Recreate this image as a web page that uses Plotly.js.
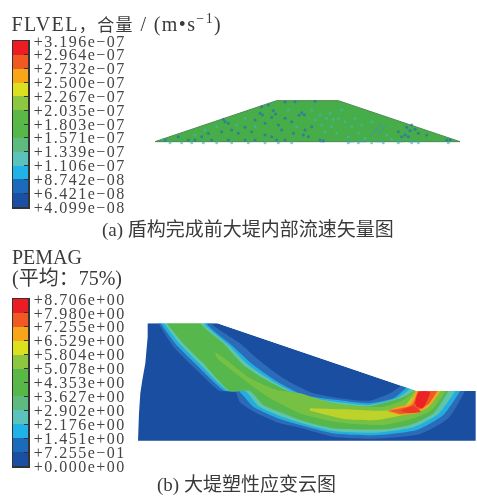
<!DOCTYPE html>
<html>
<head>
<meta charset="utf-8">
<script src="https://cdn.plot.ly/plotly-3.0.1.min.js"></script>
<style>
html,body{margin:0;padding:0;background:#fff}
#chart{width:477px;height:496px;filter:blur(0.65px)}
.ytick text,.y2tick text{letter-spacing:1.5px}
.annotation[data-index="0"] text{letter-spacing:1.4px}
</style>
</head>
<body>
<div id="chart"></div>
<script>
// Colour-bar data
const barColors = ['#1a4fa3','#1b6abb','#1fb3e8','#5bc2bc','#5dbb7f','#55b848','#5ab946','#8dc63f','#dde01f','#f9a51a','#f05a22','#ed1c24'];
const flvelValues = [4.099e-8,6.421e-8,8.742e-8,1.106e-7,1.339e-7,1.571e-7,1.803e-7,2.035e-7,2.267e-7,2.500e-7,2.732e-7,2.964e-7,3.196e-7];
const flvelLabels = ['+4.099e−08','+6.421e−08','+8.742e−08','+1.106e−07','+1.339e−07','+1.571e−07','+1.803e−07','+2.035e−07','+2.267e−07','+2.500e−07','+2.732e−07','+2.964e−07','+3.196e−07'];
const pemagValues = [0,0.7255,1.451,2.176,2.902,3.627,4.353,5.078,5.804,6.529,7.255,7.980,8.706];
const pemagLabels = ['+0.000e+00','+7.255e−01','+1.451e+00','+2.176e+00','+2.902e+00','+3.627e+00','+4.353e+00','+5.078e+00','+5.804e+00','+6.529e+00','+7.255e+00','+7.980e+00','+8.706e+00'];

// Embankment section (upper figure)
const levee = [[30,155],[395,32],[580,32],[945,155],[30,155]];
const speckBlue = [[345,70],[352,75],[385,62],[392,72],[380,82],[470,68],[462,76],[478,74],[250,100],[235,88],[300,112],[320,125],[400,105],[410,120],[480,120],[500,110],[445,130],[280,130],[190,130],[150,150],[200,150],[250,150],[300,150],[330,150],[395,150],[420,150],[525,150],[535,152],[785,112],[795,122],[820,130],[760,125],[770,140],[420,36],[450,35],[510,34],[240,95],[100,140],[130,150],[60,150],[350,50],[370,45],[330,90],[360,100],[420,85],[440,95],[360,135],[380,140],[230,125],[260,120],[170,140],[905,150],[915,150],[800,105],[810,118],[780,135],[790,140],[845,135],[475,135],[490,140]];
const speckTeal = [[555,70],[545,85],[565,88],[580,85],[530,105],[540,125],[620,110],[650,105],[680,95],[610,140],[640,130],[660,145],[575,130],[600,95],[500,60],[55,148],[725,135],[740,148],[510,90],[525,75],[590,60],[300,85],[275,105],[215,110],[330,110],[430,60],[455,110],[180,120],[150,135],[560,110],[630,85],[75,158],[110,158],[140,158],[175,158],[215,158],[260,158],[310,158],[360,158],[400,158],[440,158],[610,158],[640,158],[680,158],[715,158],[760,158],[800,158],[820,158],[910,158]];
const streakX = [690,710,null,700,720,null,675,690,null,780,800,null,775,790,null,605,630,null,640,665,null,690,715,null,755,775,null,790,815,null,525,540];
const streakY = [125,100,null,135,108,null,140,120,null,110,125,null,125,138,null,155,155,null,155,155,null,155,155,null,155,155,null,155,155,null,155,155];

// Deformed slope (lower figure)
const slopeOutline = [[53,40],[262,40],[860,243],[1037,243],[1037,392],[24,392],[27,310],[31,250],[37,210],[46,160],[53,80],[53,40]];
const bandBlue = [[70,15],[262,15],[245,40],[330,100],[380,145],[460,205],[545,248],[640,266],[720,272],[780,250],[815,226],[835,205],[1020,205],[1005,243],[955,325],[870,372],[730,386],[610,380],[510,353],[450,340],[380,310],[330,277],[315,243],[270,243],[200,180],[130,110],[85,40]];
const bandCyan = [[77,15],[240,15],[230,40],[310,110],[370,165],[450,220],[520,255],[640,272],[720,280],[790,265],[830,232],[845,205],[1005,205],[990,243],[940,315],[860,360],[730,376],[610,370],[510,345],[450,327],[370,290],[325,243],[285,243],[205,170],[135,100],[92,40]];
const bandTeal = [[87,15],[232,15],[222,40],[295,105],[355,165],[425,212],[490,246],[580,270],[680,283],[720,285],[800,265],[840,236],[855,205],[990,205],[975,243],[925,312],[850,352],[740,368],[610,363],[510,338],[450,318],[385,288],[345,243],[295,243],[212,165],[145,97],[102,40]];
const bandGreen = [[95,15],[222,15],[212,40],[280,100],[340,165],[400,205],[460,237],[530,262],[640,285],[720,288],[810,265],[850,243],[865,205],[970,205],[955,243],[910,310],[840,345],[760,358],[610,355],[510,330],[460,310],[400,285],[360,243],[300,243],[220,160],[155,95],[110,40]];
const bandLight = [[255,125],[290,150],[360,205],[440,240],[510,250],[610,280],[760,290],[820,270],[850,245],[865,205],[960,205],[945,245],[905,300],[850,325],[760,345],[610,335],[510,310],[420,265],[370,230],[310,185],[260,145]];
const bandLime = [[540,295],[640,298],[760,302],[820,290],[855,250],[870,205],[945,205],[930,245],[890,295],[820,315],[740,330],[650,328],[540,302]];
const bandOrange = [[770,305],[790,295],[840,280],[855,248],[868,205],[945,205],[928,245],[905,280],[860,310],[810,315]];
const bandScarlet = [[775,302],[845,285],[862,248],[875,205],[935,205],[920,245],[895,282],[855,305],[810,312]];
const patchRed = [[855,280],[866,246],[900,246],[893,268],[878,295],[860,290]];
const patchWedge = [[810,302],[850,288],[872,305],[835,310]];
const skyCover = [[0,0],[1041,0],[1041,243],[860,243],[262,40],[0,40],[0,0]];

const xs = p => p.map(q => q[0]);
const ys = p => p.map(q => q[1]);
const poly = (pts, color, xa, ya) => ({type:'scatter',mode:'lines',x:xs(pts),y:ys(pts),fill:'toself',fillcolor:color,line:{width:0,color:color},xaxis:xa,yaxis:ya,hoverinfo:'skip'});
const curve = (pts, color) => { const t = poly(pts, color, 'x4', 'y4'); t.line = {width:0,color:color,shape:'spline',smoothing:0.6}; return t; };
const bar = (vals, xa, ya) => ({type:'heatmap',x:[0,1],y:vals,z:barColors.map((c,i)=>[i]),zmin:0,zmax:11,showscale:false,xaxis:xa,yaxis:ya,hoverinfo:'skip',
  colorscale:barColors.map((c,i)=>[i/11,c])});

const traces = [
  bar(flvelValues,'x','y'),
  bar(pemagValues,'x2','y2'),
  Object.assign(poly(levee,'#46ad48','x3','y3'),{line:{width:1,color:'#4a8a50'}}),
  {type:'scatter',mode:'lines',x:streakX,y:streakY,xaxis:'x3',yaxis:'y3',hoverinfo:'skip',line:{width:1.2,color:'#3f8fc0'},opacity:0.7},
  {type:'scatter',mode:'markers',x:xs(speckTeal),y:ys(speckTeal),xaxis:'x3',yaxis:'y3',hoverinfo:'skip',marker:{size:3,color:'#3fb8b0',opacity:0.65}},
  {type:'scatter',mode:'markers',x:xs(speckBlue),y:ys(speckBlue),xaxis:'x3',yaxis:'y3',hoverinfo:'skip',marker:{size:3,color:'#2c70b0',opacity:0.75}},
  poly(slopeOutline,'#1a4ea0','x4','y4'),
  curve(bandBlue,'#2c6bb8'),
  curve(bandCyan,'#22aee0'),
  curve(bandTeal,'#5fc4ac'),
  curve(bandGreen,'#55b74c'),
  curve(bandLight,'#76c044'),
  curve(bandLime,'#bdd22a'),
  curve(bandOrange,'#f5a020'),
  curve(bandScarlet,'#ee5a24'),
  curve(patchRed,'#ec2226'),
  curve(patchWedge,'#ec3a26'),
  poly(skyCover,'#ffffff','x4','y4')
];

const serif = '"Liberation Serif","Noto Sans CJK SC",serif';
const hide = {visible:false,fixedrange:true};
const H = 496, W = 477;
const vAxis = (vals, labels, top, bottom, anchor) => ({
  domain:[(H-bottom)/H,(H-top)/H],range:[vals[0],vals[vals.length-1]],anchor:anchor,side:'right',
  tickmode:'array',tickvals:vals,ticktext:labels,ticks:'inside',ticklen:4,tickcolor:'#333',tickwidth:1,
  ticklabelstandoff:1,tickfont:{family:serif,size:16,color:'#444'},showline:true,linecolor:'#333',linewidth:1.5,mirror:true,showgrid:false,zeroline:false
});
const hAxis = {domain:[13/W,28/W],range:[0,1],showticklabels:false,ticks:'',showline:true,linecolor:'#333',linewidth:1.5,mirror:true,showgrid:false,zeroline:false};
const note = (text,x,y,size) => ({text:text,xref:'paper',yref:'paper',x:x/W,y:(H-y)/H,xanchor:'left',yanchor:'middle',showarrow:false,font:{family:serif,size:size,color:'#3a3a3a'}});

const layout = {
  width:W,height:H,margin:{l:0,r:0,t:0,b:0},paper_bgcolor:'#fff',plot_bgcolor:'#fff',showlegend:false,
  xaxis:Object.assign({},hAxis,{anchor:'y'}),
  yaxis:vAxis(flvelValues,flvelLabels,41,207,'x'),
  xaxis2:Object.assign({},hAxis,{anchor:'y2'}),
  yaxis2:vAxis(pemagValues,pemagLabels,299,466,'x2'),
  xaxis3:Object.assign({},hide,{domain:[145/W,470/W],range:[0,975],anchor:'y3'}),
  yaxis3:Object.assign({},hide,{domain:[(H-150)/H,(H-90)/H],range:[180,0],anchor:'x3'}),
  xaxis4:Object.assign({},hide,{domain:[130/W,1],range:[0,1041],anchor:'y4'}),
  yaxis4:Object.assign({},hide,{domain:[(H-450)/H,(H-310)/H],range:[420,0],anchor:'x4'}),
  annotations:[
    note('FLVEL<span style="font-size:17px">，合量</span> / (m•s<sup>−1</sup>)',22,23,20),
    note('(a) 盾构完成前大堤内部流速矢量图',100,230,19),
    note('PEMAG',10,257,20),
    note('(平均：75%)',10,278,20),
    note('(b) 大堤塑性应变云图',155,485,19)
  ]
};
Plotly.newPlot('chart',traces,layout,{displayModeBar:false,staticPlot:true});
</script>
</body>
</html>
